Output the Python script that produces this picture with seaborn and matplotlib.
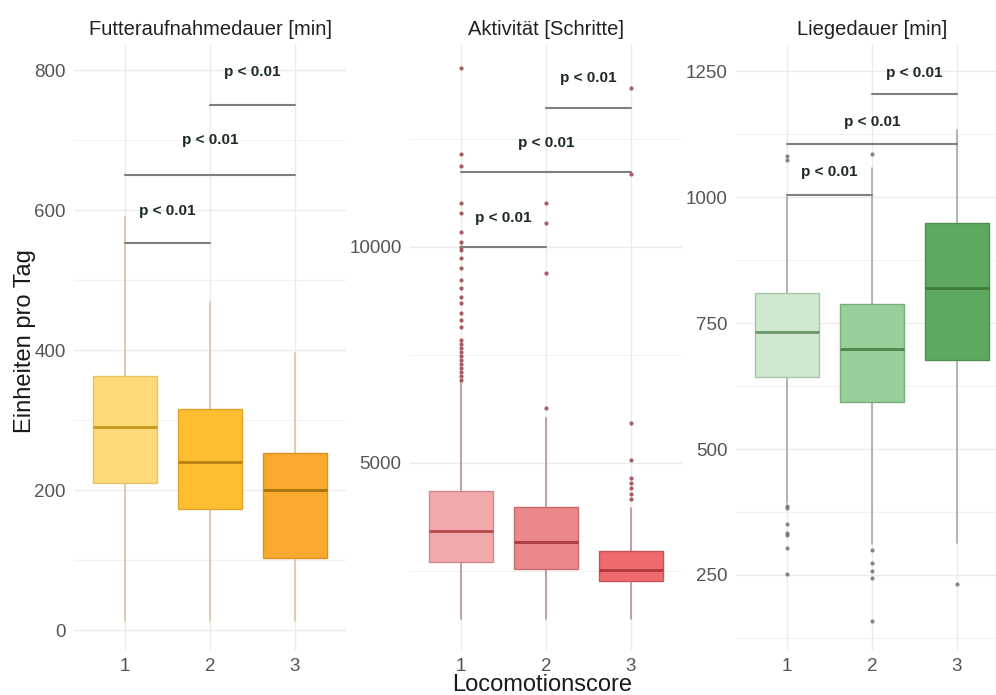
import matplotlib
matplotlib.use("Agg")
import matplotlib.pyplot as plt
import seaborn as sns

# Locomotion score groups
scores = [1, 2, 3]

# Futteraufnahmedauer [min] - box statistics per score
futter_lo = [14, 14, 14]
futter_q1 = [210, 174, 104]
futter_med = [290, 241, 201]
futter_q3 = [363, 316, 254]
futter_hi = [590, 469, 396]
futter_out = [[], [], []]
futter_brackets = [553, 651, 751]
futter_labels_y = [599, 700, 797]

# Aktivität [Schritte]
aktiv_lo = [1389, 1389, 1389]
aktiv_q1 = [2708, 2546, 2269]
aktiv_med = [3426, 3171, 2523]
aktiv_q3 = [4352, 3981, 2963]
aktiv_hi = [6850, 6042, 3958]
aktiv_out = [
    [14144, 12153, 11875, 11019, 10787, 10347, 10116, 10000, 9931, 9745, 9514,
     9236, 9051, 8843, 8704, 8472, 8310, 8148, 7847, 7755, 7662, 7569, 7477,
     7384, 7292, 7199, 7106, 7014, 6921],
    [6273, 9398, 10556, 11019],
    [4167, 4282, 4421, 4537, 4653, 5069, 5926, 11690, 13681],
]
aktiv_brackets = [10000, 11736, 13218]
aktiv_labels_y = [10671, 12407, 13912]

# Liegedauer [min]
liege_lo = [393, 312, 313]
liege_q1 = [643, 593, 677]
liege_med = [732, 698, 819]
liege_q3 = [810, 788, 948]
liege_hi = [1000, 1057, 1133]
liege_out = [
    [387, 383, 351, 333, 329, 304, 252, 1073, 1081],
    [300, 274, 258, 244, 159, 1085],
    [232],
]
liege_brackets = [1004, 1105, 1204]
liege_labels_y = [1049, 1149, 1247]

bracket_pairs = [(1, 2), (1, 3), (2, 3)]
p_label = "p < 0.01"

sns.set_theme(style="whitegrid")
plt.rcParams['font.family'] = ['Liberation Sans', 'DejaVu Sans']

panels = [
    dict(title="Futteraufnahmedauer [min]", lo=futter_lo, q1=futter_q1, med=futter_med,
         q3=futter_q3, hi=futter_hi, out=futter_out, br=futter_brackets, ly=futter_labels_y,
         ylim=(-28, 836), ticks=[0, 200, 400, 600, 800], minor=[100, 300, 500, 700],
         fills=["#FDD977", "#FDBE31", "#F9AA2E"], edges=["#E5C265", "#E0A42A", "#DC9224"],
         meds=["#C49A1E", "#B98012", "#A8700E"], whisk="#D8C79C", flier="#8A7040",
         left=74),
    dict(title="Aktivität [Schritte]", lo=aktiv_lo, q1=aktiv_q1, med=aktiv_med,
         q3=aktiv_q3, hi=aktiv_hi, out=aktiv_out, br=aktiv_brackets, ly=aktiv_labels_y,
         ylim=(671, 14676), ticks=[5000, 10000], minor=[2500, 7500, 12500],
         fills=["#F2A9AC", "#E8888A", "#EE6A6C"], edges=["#D08A8E", "#C86A6E", "#C85458"],
         meds=["#B0484C", "#A83A3E", "#B0383C"], whisk="#B89294", flier="#9C4048",
         left=410),
    dict(title="Liegedauer [min]", lo=liege_lo, q1=liege_q1, med=liege_med,
         q3=liege_q3, hi=liege_hi, out=liege_out, br=liege_brackets, ly=liege_labels_y,
         ylim=(101, 1302), ticks=[250, 500, 750, 1000, 1250], minor=[125, 375, 625, 875, 1125],
         fills=["#D0E8D0", "#98CF98", "#5FA85F"], edges=["#A8C4A8", "#78AE78", "#4C8C4C"],
         meds=["#6E956E", "#4C864C", "#3C7A3C"], whisk="#A4ACA4", flier="#707570",
         left=736),
]

W, H = 996, 695
fig = plt.figure(figsize=(W / 100, H / 100), dpi=100)

for p in panels:
    ax = fig.add_axes([p["left"] / W, 45 / H, 272 / W, 605 / H])
    ax.set_facecolor("white")
    for s in ax.spines.values():
        s.set_visible(False)

    # minor grid
    for m in p["minor"]:
        ax.axhline(m, color="#F2F2F2", lw=0.8, zorder=0)
    ax.grid(True, color="#EBEBEB", lw=1.0, zorder=0)

    stats = []
    for i in range(3):
        stats.append(dict(whislo=p["lo"][i], q1=p["q1"][i], med=p["med"][i],
                          q3=p["q3"][i], whishi=p["hi"][i], fliers=[]))
    bp = ax.bxp(stats, positions=scores, widths=0.75, patch_artist=True,
                showcaps=False, showfliers=False, manage_ticks=False)
    for i, box in enumerate(bp["boxes"]):
        box.set_facecolor(p["fills"][i])
        box.set_edgecolor(p["edges"][i])
        box.set_linewidth(1.0)
        box.set_zorder(3)
    for i, med in enumerate(bp["medians"]):
        med.set_color(p["meds"][i])
        med.set_linewidth(2.0)
        med.set_zorder(4)
    for w in bp["whiskers"]:
        w.set_color(p["whisk"])
        w.set_linewidth(1.2)
        w.set_zorder(2)

    xs, ys = [], []
    for i, vals in enumerate(p["out"]):
        xs += [scores[i]] * len(vals)
        ys += vals
    if xs:
        sns.scatterplot(x=xs, y=ys, ax=ax, color=p["flier"], s=9, linewidth=0,
                        alpha=0.85, zorder=5, legend=False)

    for (a, b), yb, yl in zip(bracket_pairs, p["br"], p["ly"]):
        ax.plot([a, b], [yb, yb], color="#7F7F7F", lw=1.5, zorder=6)
        ax.text((a + b) / 2, yl, p_label, ha="center", va="center",
                fontsize=11, fontweight="bold", color="#1E2A2A", zorder=7)

    ax.set_xlim(0.4, 3.6)
    ax.set_ylim(*p["ylim"])
    ax.set_xticks(scores)
    ax.set_xticklabels([str(s) for s in scores])
    ax.set_yticks(p["ticks"])
    ax.set_yticklabels([str(t) for t in p["ticks"]])
    ax.tick_params(axis="both", labelsize=13.5, colors="#555555", length=0, pad=6)
    ax.set_xlabel("")
    ax.set_ylabel("")
    ax.set_title(p["title"], fontsize=14.5, color="#222222", pad=7)

fig.text(25 / W, 1 - 341 / H, "Einheiten pro Tag", rotation=90, ha="center",
         va="center", fontsize=17, color="#1A1A1A")
fig.text(542 / W, 1 - 685 / H, "Locomotionscore", ha="center", va="center",
         fontsize=17, color="#1A1A1A")

fig.savefig("out.png", dpi=100, facecolor="white")
